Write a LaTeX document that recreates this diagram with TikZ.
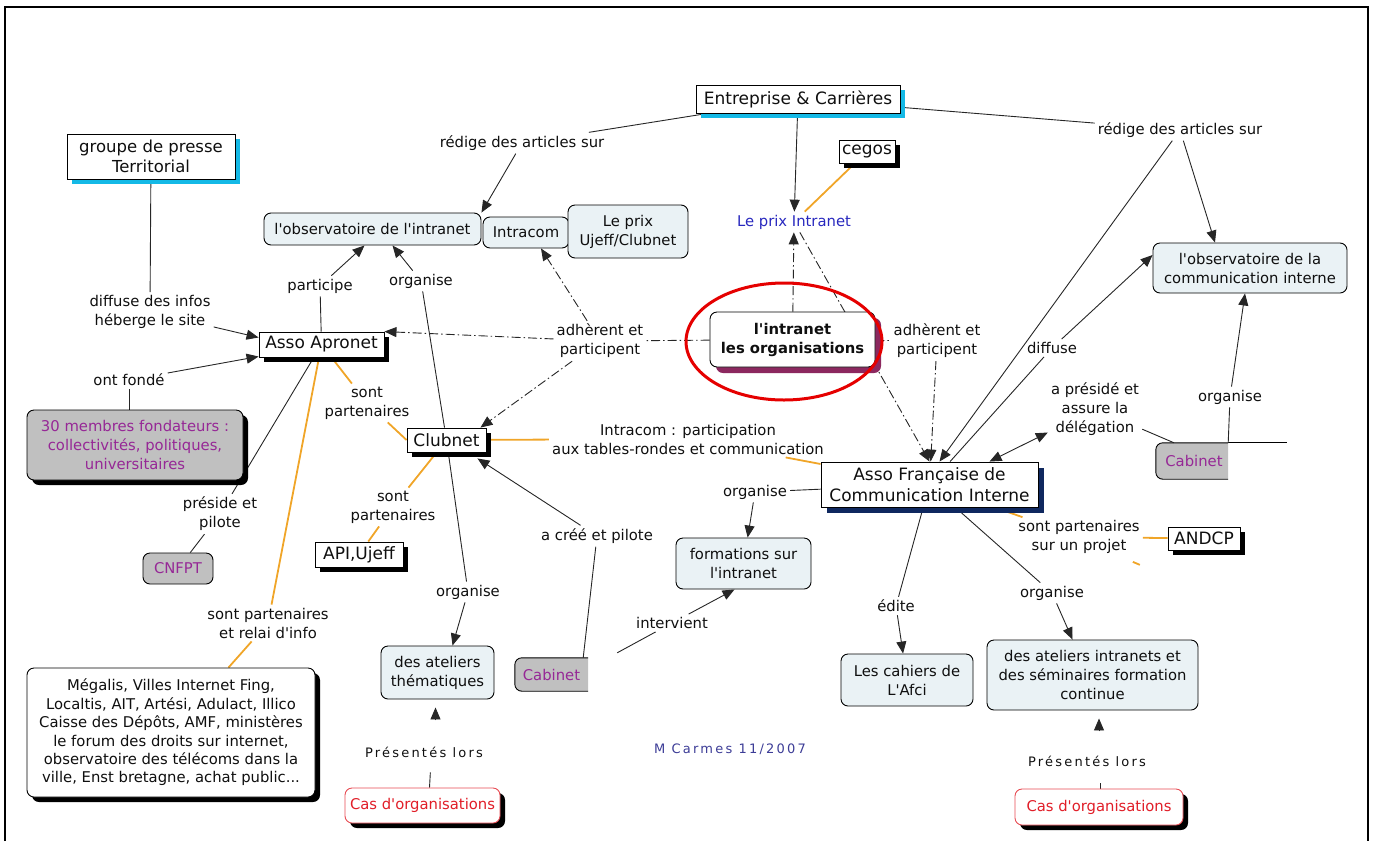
\documentclass[tikz,border=0pt]{standalone}
\usepackage{fontspec}
\setmainfont{DejaVu Sans}[Ligatures=TeXOff]
\newfontfamily\widefont[LetterSpace=17]{DejaVu Sans}
\usetikzlibrary{shadows,arrows.meta,backgrounds}
\definecolor{lightbox}{RGB}{234,242,245}
\definecolor{cabgrey}{RGB}{192,192,192}
\definecolor{purpletxt}{RGB}{150,40,150}
\definecolor{shcyan}{RGB}{20,185,230}
\definecolor{shnavy}{RGB}{15,40,95}
\definecolor{shpurple}{RGB}{140,40,95}
\definecolor{orng}{RGB}{240,165,40}
\definecolor{bluetxt}{RGB}{40,40,190}
\definecolor{mcblue}{RGB}{60,60,150}
\definecolor{redtxt}{RGB}{225,30,40}
\definecolor{txt}{RGB}{15,15,15}
\newcommand\lblfont{\fontsize{14.8}{19}\selectfont}
\newcommand\boxfont{\fontsize{17}{21}\selectfont}
\newcommand\presfont{\widefont\fontsize{13}{16}\selectfont}
\begin{document}
\begin{tikzpicture}[x=1pt,y=-1pt, font=\lblfont, text=txt,
  >={Triangle[length=12pt,width=10pt]},
  wh/.style 2 args={minimum width=#1pt, minimum height=#2pt},
  lbl/.style={inner sep=3pt, align=center},
  sqbox/.style={draw, fill=white, inner sep=1pt, align=center, font=\boxfont, line width=0.9pt},
  rbox/.style={draw, fill=lightbox, rounded corners=7pt, inner sep=1pt, align=center, line width=0.9pt},
  shC/.style={drop shadow={fill=shcyan, opacity=1, shadow xshift=5pt, shadow yshift=-5pt}},
  shK/.style={drop shadow={fill=black, opacity=1, shadow xshift=5pt, shadow yshift=-5pt}},
  shN/.style={drop shadow={fill=shnavy, opacity=1, shadow xshift=6pt, shadow yshift=-6pt}},
  shP/.style={drop shadow={fill=shpurple, opacity=1, shadow xshift=6pt, shadow yshift=-6pt}},
  conn/.style={line width=0.9pt, draw=black!85},
  oconn/.style={line width=1.8pt, draw=orng},
  dconn/.style={line width=0.9pt, draw=black!85, dash pattern=on 9pt off 3pt on 1.5pt off 3pt},
]
\useasboundingbox (0,0) rectangle (1375,841);
\draw[line width=2pt] (5,841) -- (5,7) -- (1368,7) -- (1368,841);

% concept nodes
\node[sqbox, shC, wh={204}{28}] (ec) at (798,99) {Entreprise \& Carrières};
\node[sqbox, shK, wh={56}{23}] (cegos) at (867,151.5) {cegos};
\node[lbl, text=bluetxt] (prix) at (794,222) {Le prix Intranet};
\node[sqbox, shC, wh={168}{45}, font=\fontsize{16.5}{20}\selectfont] (gp) at (151,156.5) {groupe de presse\\Territorial};
\node[rbox, wh={217}{32}] (obsi) at (372.5,229) {l'observatoire de l'intranet};
\node[rbox, wh={86}{31}] (intracom) at (526,232.5) {Intracom};
\node[rbox, wh={120}{53}] (ujeff) at (628,231.5) {Le prix\\Ujeff/Clubnet};
\node[rbox, wh={194}{50}] (obsc) at (1250,268) {l'observatoire de la\\communication interne};
\node[sqbox, shK, wh={125}{25}] (apronet) at (321.5,344.5) {Asso Apronet};
\node[rbox, fill=white, shP, wh={165}{55}, font=\bfseries\lblfont] (intranet) at (792.5,339.5) {l'intranet\\les organisations};
\node[rbox, fill=cabgrey, text=purpletxt, shK, wh={216}{70}] (membres) at (135,445) {30 membres fondateurs :\\collectivités, politiques,\\universitaires};
\node[sqbox, shK, wh={79}{24}] (clubnet) at (446.5,440) {Clubnet};
\node[rbox, fill=cabgrey, text=purpletxt, wh={70}{31}] (cnfpt) at (178,568.5) {CNFPT};
\node[sqbox, shK, wh={88}{25}] (api) at (359,554.5) {API,Ujeff};
\node[sqbox, shN, wh={217}{45}] (afci) at (929.5,484.5) {Asso Française de\\Communication Interne};
\node[inner sep=1pt, text=purpletxt, wh={72}{36}] (cab1) at (1192,461) {\hspace*{4pt}Cabinet};
\node[sqbox, shK, wh={72}{23}] (andcp) at (1204,538.5) {ANDCP};
\node[rbox, wh={135}{51}] (form) at (743.5,563.5) {formations sur\\l'intranet};
\node[rbox, wh={113}{53}] (ateliers) at (437.5,672.5) {des ateliers\\thématiques};
\node[inner sep=1pt, text=purpletxt, wh={73}{33}] (cab2) at (551.5,674.5) {Cabinet};
\node[rbox, wh={132}{52}] (cahiers) at (907,680) {Les cahiers de\\L'Afci};
\node[rbox, wh={211}{70}] (atelint) at (1092.5,675) {des ateliers intranets et\\des séminaires formation\\continue};
\node[rbox, fill=white, shK, wh={288}{129}, font=\fontsize{14.8}{18.4}\selectfont] (megalis) at (171,732.5) {Mégalis, Villes Internet Fing,\\Localtis, AIT, Artési, Adulact, Illico\\Caisse des Dépôts, AMF, ministères\\le forum des droits sur internet,\\observatoire des télécoms dans la\\ville, Enst bretagne, achat public...};
\node[rbox, fill=white, draw=redtxt!80, text=redtxt, shK, wh={155}{35}] (cas1) at (422.5,805.5) {Cas d'organisations};
\node[rbox, fill=white, draw=redtxt!80, text=redtxt, shK, wh={168}{36}] (cas2) at (1099,807) {Cas d'organisations};

% linking phrases
\node[lbl] (l_red1) at (522,143) {rédige des articles sur};
\node[lbl] (l_red2) at (1180,130) {rédige des articles sur};
\node[lbl] (l_diff) at (150,312) {diffuse des infos\\héberge le site};
\node[lbl] (l_part) at (320,286) {participe};
\node[lbl] (l_org1) at (421,281) {organise};
\node[lbl] (l_fond) at (129,380) {ont fondé};
\node[lbl] (l_sp1) at (367,403) {sont\\partenaires};
\node[lbl] (l_pres) at (220,514) {préside et\\pilote};
\node[lbl] (l_sp2) at (393,507) {sont\\partenaires};
\node[lbl] (l_adh1) at (600,341) {adhèrent et\\participent};
\node[lbl] (l_adh2) at (937,341) {adhèrent et\\participent};
\node[lbl] (l_intra) at (688,439) {Intracom : participation\\aux tables-rondes et communication};
\node[lbl] (l_org2) at (755,492) {organise};
\node[lbl] (l_cree) at (597,536) {a créé et pilote};
\node[lbl] (l_diffuse) at (1052,348) {diffuse};
\node[lbl] (l_preside) at (1095,409) {a présidé et\\assure la\\délégation};
\node[lbl] (l_org3) at (1230,397) {organise};
\node[lbl] (l_spp) at (1079,537) {sont partenaires\\sur un projet};
\node[lbl] (l_relai) at (268,623) {sont partenaires\\et relai d'info};
\node[lbl] (l_org4) at (468,592) {organise};
\node[lbl] (l_interv) at (672,623) {intervient};
\node[lbl] (l_edite) at (896,606) {édite};
\node[lbl] (l_org5) at (1052,593) {organise};
\node[lbl, font=\presfont] (l_pres1) at (424,752) {Présentés lors};
\node[lbl, font=\presfont] (l_pres2) at (1087,761) {Présentés lors};
\node[lbl, font=\presfont, text=mcblue] (mc) at (730,749) {M Carmes 11/2007};

% highlight
\draw[line width=3pt, draw=red!90!black] (784,341.5) ellipse [x radius=98, y radius=58.5];

\begin{scope}[on background layer]
  % truncated Cabinet boxes
  \begin{scope}
    \clip ([shift={(-2pt,2pt)}]cab1.north west) rectangle ([yshift=-2pt]cab1.south east);
    \draw[line width=0.9pt, fill=cabgrey, rounded corners=7pt] (cab1.south west) rectangle ([xshift=12pt]cab1.north east);
  \end{scope}
  \draw[line width=0.9pt] (cab1.north east) -- ([xshift=59pt]cab1.north east);
  \begin{scope}
    \clip ([shift={(-2pt,2pt)}]cab2.north west) rectangle ([yshift=-2pt]cab2.south east);
    \draw[line width=0.9pt, fill=cabgrey, rounded corners=7pt] (cab2.south west) rectangle ([xshift=12pt]cab2.north east);
  \end{scope}

  % connectors
  \draw[conn] (ec) -- (l_red1);
  \draw[conn,->] (l_red1) -- (obsi.north east);
  \draw[conn] (ec) -- (l_red2);
  \draw[conn,->] (l_red2) -- ([xshift=10pt]afci.north);
  \draw[conn,->] (l_red2) -- ([xshift=-35pt]obsc.north);
  \draw[conn,->] (ec) -- (prix);
  \draw[oconn] (cegos) -- (prix);
  \draw[dconn,->] (intranet) -- (prix);
  \draw[dconn,->] (prix) -- (afci.north);
  \draw[dconn] (intranet) -- (l_adh2);
  \draw[dconn,->] (l_adh2) -- (afci);
  \draw[dconn] (intranet) -- (l_adh1);
  \draw[dconn,->] (l_adh1) -- (apronet.north east);
  \draw[dconn,->] (l_adh1) -- ([xshift=15pt]intracom.south);
  \draw[dconn,->] (l_adh1) -- ([xshift=-6pt]clubnet.north east);
  \draw[conn] (gp) -- (l_diff);
  \draw[conn,->] (l_diff) -- ([yshift=7pt]apronet.west);
  \draw[conn] (membres.north -| l_fond) -- (l_fond);
  \draw[conn,->] (l_fond) -- ([yshift=-12pt]apronet.west);
  \draw[conn] (apronet) -- (l_part);
  \draw[conn,->] (l_part) -- ([xshift=-8pt]obsi.south);
  \draw[conn] (clubnet) -- (l_org1);
  \draw[conn,->] (l_org1) -- ([xshift=20pt]obsi.south);
  \draw[conn] (clubnet) -- (l_org4);
  \draw[conn,->] (l_org4) -- ([xshift=15pt]ateliers.north);
  \draw[oconn] (apronet) -- (l_sp1);
  \draw[oconn] (l_sp1) -- (clubnet.west);
  \draw[oconn] (clubnet) -- (l_sp2);
  \draw[oconn] (l_sp2) -- (api);
  \draw[oconn] (clubnet) -- (l_intra);
  \draw[oconn] (l_intra) -- (afci);
  \draw[conn] (apronet) -- (l_pres);
  \draw[conn] (l_pres) -- (cnfpt);
  \draw[oconn] (apronet) -- (l_relai);
  \draw[oconn] (l_relai) -- (megalis);
  \draw[conn] ([xshift=-5pt]cab2.north east) -- (l_cree);
  \draw[conn,->] (l_cree) -- ([xshift=-9pt,yshift=-6pt]clubnet.south east);
  \draw[conn] ([xshift=29pt,yshift=5pt]cab2.north east) -- (l_interv);
  \draw[conn,->] (l_interv) -- ([xshift=-9pt]form.south);
  \draw[conn] (afci) -- (l_org2);
  \draw[conn,->] (l_org2) -- (form);
  \draw[conn] (afci) -- (l_diffuse);
  \draw[conn,->] (l_diffuse) -- ([yshift=13pt]obsc.west);
  \draw[conn,<->] ([xshift=60pt]afci.north) -- (l_preside);
  \draw[conn] (l_preside) -- ([xshift=-18pt]cab1.north);
  \draw[conn] (cab1.north east) -- (l_org3);
  \draw[conn,->] (l_org3) -- ([xshift=-5pt]obsc.south);
  \draw[oconn] (afci) -- (l_spp);
  \draw[oconn] (l_spp) -- (andcp);
  \draw[oconn] ([xshift=-10pt,yshift=-5pt]l_spp.south east) -- ++(7,3);
  \draw[conn] (afci) -- (l_edite);
  \draw[conn,->] (l_edite) -- (cahiers);
  \draw[conn] (afci) -- (l_org5);
  \draw[conn,->] (l_org5) -- ([xshift=-20pt]atelint.north);
  \draw[conn, shorten >=12pt] ([xshift=7pt]cas1.north) -- ([xshift=7pt]l_pres1.south);
  \draw[conn,->] ([xshift=-2pt,yshift=-21pt]ateliers.south) -- ([xshift=-2pt,yshift=-8pt]ateliers.south);
  \draw[conn, shorten >=13pt] ([xshift=1pt]cas2.north) -- ([xshift=13pt]l_pres2.south);
  \draw[conn,->] ([xshift=6.5pt,yshift=-21pt]atelint.south) -- ([xshift=6.5pt,yshift=-8pt]atelint.south);
\end{scope}
\end{tikzpicture}
\end{document}
